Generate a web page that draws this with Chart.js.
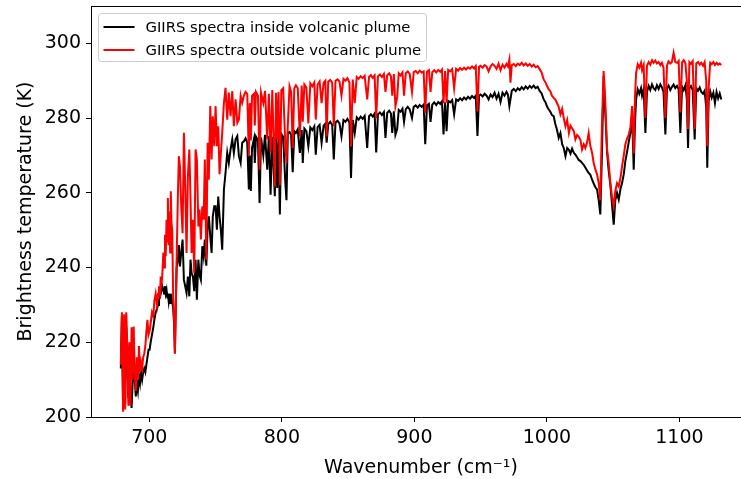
<!DOCTYPE html>
<html><head><meta charset="utf-8">
<script src="https://cdn.jsdelivr.net/npm/chart.js@4.4.0/dist/chart.umd.min.js"></script>
<style>
html,body{margin:0;padding:0;background:#fff;overflow:hidden;width:741px;height:479px}
#wrap{width:770px;height:479px}
</style></head>
<body><div id="wrap"><canvas id="c" width="770" height="479"></canvas></div>
<script>
// Wavenumber (cm-1)
const wavenumbers = [
678.5,679.3,680.2,681.0,681.8,682.6,683.4,684.2,685.0,685.8,686.6,687.4,688.2,689.0,689.8,690.6,691.4,692.2,693.0,693.8,694.6,695.4,696.2,697.0,697.8,698.6,699.4,
700.2,701.0,702.0,703.0,703.8,704.8,705.8,706.6,707.3,708.0,708.6,709.3,709.8,710.6,711.2,711.8,712.4,713.0,713.6,714.0,714.6,715.2,715.7,716.2,716.7,717.3,718.0,718.7,719.3,720.0,720.6,721.6,722.3,
723.1,724.1,725.1,726.1,727.1,728.1,729.1,730.2,731.1,731.9,732.9,733.9,734.9,735.9,737.0,737.9,738.9,740.0,741.0,741.9,743.0,744.0,744.9,746.0,747.0,747.9,749.0,750.0,751.0,752.0,753.0,754.0,755.0,756.3,757.5,758.8,760.0,761.3,762.6,763.8,765.1,766.4,767.6,768.9,770.1,771.3,772.6,773.9,775.1,775.8,776.6,777.5,
779.0,779.6,780.5,782.0,783.2,784.3,786.0,787.3,789.0,790.2,791.5,792.8,794.7,795.6,796.5,797.5,798.5,799.6,801.0,802.5,803.5,804.5,805.8,807.0,808.2,809.4,810.6,812.0,813.6,815.0,815.8,817.0,818.5,820.0,821.5,823.0,824.5,825.6,827.0,828.5,830.0,831.5,832.8,833.8,835.0,836.5,838.0,839.2,840.5,842.0,843.5,845.0,846.5,848.0,849.5,851.0,852.2,853.5,855.0,856.5,858.0,859.5,
861.0,862.5,864.4,865.8,867.2,868.6,870.0,871.2,872.5,874.0,875.5,877.0,878.2,879.5,881.0,882.3,883.3,884.5,885.7,887.0,888.2,889.6,891.0,892.2,893.5,895.0,896.5,898.2,899.5,901.0,902.5,904.0,905.5,907.0,908.2,909.5,911.0,912.2,913.5,915.0,916.5,918.0,919.5,920.8,922.0,923.2,924.3,925.5,927.0,928.5,930.0,931.5,933.0,934.5,936.0,937.5,939.0,940.5,942.0,943.5,945.0,946.3,947.6,948.8,950.0,951.5,953.0,954.5,
956.0,957.5,959.0,960.5,962.0,963.5,965.0,966.5,968.0,969.5,970.6,971.7,972.5,973.5,975.0,976.5,978.0,979.5,981.0,982.5,984.0,985.5,987.0,988.5,990.0,991.5,993.0,994.5,996.0,997.6,999.0,1000.2,1001.4,1002.6,1003.8,1005.1,1006.3,1007.5,1008.9,1010.2,1011.5,1012.7,1014.0,1015.3,1016.6,1017.8,1019.0,1020.3,1021.5,1022.8,1024.0,1025.3,1026.5,1027.8,1029.0,1030.3,1031.5,1032.8,1034.1,1035.3,1036.6,1037.8,1039.1,1040.3,1041.5,1042.8,1044.0,1045.4,1046.6,1047.9,1049.1,1050.4,1051.6,
1052.9,1054.2,1055.5,1056.7,1058.0,1059.2,1060.5,1061.7,1063.0,1064.3,1065.5,1066.5,1067.3,1068.5,1069.7,1071.0,1071.8,1073.0,1074.3,1075.5,1076.8,1078.0,1079.3,1080.5,1081.8,1083.0,1084.3,1085.6,1086.8,1088.0,1089.4,1090.6,1091.8,1093.1,1094.3,1095.6,1096.9,1098.2,1099.4,1100.7,1102.0,1103.2,1104.5,1105.6,1106.5,1107.5,1108.7,1110.0,1111.5,1112.7,1114.0,1115.3,1116.5,1117.8,1119.0,1120.2,1121.0,1122.0,1123.2,1124.4,1125.6,1126.8,1128.0,1129.2,1130.4,1131.6
];

// Brightness temperature (K), inside volcanic plume
const insideBT = [
213,227,202.5,225,203.5,224,217,205,215,206,202.4,209,213,210,205.5,209,207,211,209,212,210,212,213,212,214,216,218,
218,220,222,224,226,228,229,230,231.4,232,233,234,235,234,233,235,233,234,232,233,231,233,230.5,233,232,231,229,225,217,230,240,242,246,
240.3,244,247.5,236.7,235,233.2,237.6,232.3,242.1,238.5,237.6,233.7,242.1,231.4,242.1,238,236.7,245.7,243,247.5,240.5,251,253.7,248.3,243.9,253.7,256.4,256.4,250.1,259,253.7,250,244.8,260.9,265.3,270.7,268,271.6,274.3,270.7,274.3,275.2,269.8,268,273.4,273.8,274.6,273.4,260.9,270,260.5,272,
274.5,268,275,274,257.3,274.8,270,275.5,266.2,275.2,259.5,275,259.1,274.5,261.3,275,254.2,275.8,275,263.5,258,276,276.3,275.5,265.5,276.5,276,277,270.7,276.8,268,277.2,276.5,272.5,277.5,276.8,277.8,270.2,277.6,278.2,273.4,278,278.5,273.4,278.3,279,278.2,268.9,278.8,279.3,278.6,275.1,279.5,279,279.8,278.8,264,279.5,276,280.2,279.6,280.4,
279.8,280.6,272,280.5,281,280.4,281.2,270.8,281,281.5,280.8,281.6,274.7,281.4,282,281.2,276,281.8,275.5,277,282.2,281.7,282.5,279,282.4,283,282.3,280,283,283.4,282.8,283.5,283,283.6,273,283.4,283.8,279,283.6,284.2,283.5,284.3,283.8,284.5,275.6,284.2,276.5,284.6,284.2,284.8,281,285,284.6,285.3,284.8,285.5,285,285.7,285.2,285.9,285.4,286,275.2,286,286.3,285.8,286.5,286,
285,286.3,285.6,286.8,285.2,286.5,284.3,286.8,286,287,286.3,283.2,285,287.3,287.8,287.2,288,287.5,288.3,287.7,288.5,287.9,288.6,288.1,288.7,288,288.4,287.3,286.6,285,284.2,283,282.3,281.7,280.8,280.5,278.5,277,274.7,276,273,272,269.8,272,271.5,270.5,271.8,270.7,270.2,269.5,268.8,268.5,268,267.5,266.8,266,265.3,264.8,263.5,262.5,261.5,260.9,258,254.2,270,291.2,282,270.8,266,262,257,251.5,258,
260,258.2,261,262.6,265,268.5,271,273.5,276,281,266.2,279,285,287.7,286.5,288,286,287.8,276,287,288.6,287.5,289,288,287.5,288.8,287.8,289,288.2,287,275.6,288,288.7,287.5,288.3,289,288,288.6,287.8,276,288.4,287.5,288.8,285,272,288,288.6,287.5,274.3,288,287.3,288.2,287,286.5,287.3,283,266.7,284.5,287.2,285.5,286.8,284,287,285.3,286.6,285
];

// Brightness temperature (K), outside volcanic plume
const outsideBT = [
214,228,201.4,227.5,202,228,219,203,220,203,224,210,224.2,212,207,216,210,219,212,214.6,213,216,217,219,223,226,222,
223,225,228,227,231,233,230,233,235,232,237.6,236,238,244,240,248.8,243,252.8,247,258.6,246,255,244,260.4,252,250,232,226,217,230,242,260,269.8,
267.1,256.4,249.2,276.1,261.7,243.9,264.4,271.6,258.2,243.9,252.8,238.5,271.6,268.9,251,255.5,247.5,256.4,252.8,268.9,242.1,273.4,263.5,283.2,268.9,280.5,272.5,283.2,272.5,277.8,265,270.7,276,284.1,288.1,279.6,286.8,280.5,287.2,277.8,285,278.7,279.6,286,284.1,285.9,287,286.5,269.8,284,274,286,
286.5,278,287,286,266.2,286.8,284,287.3,274.3,286.5,270.8,287.5,261.7,286.8,274.3,287,262,287.5,288,274,268,278,288.5,287,272,288,288.8,288,275.1,288.7,279,289,288.2,278.6,289.3,288.5,289.5,279.6,289,289.8,284,289.5,290,275.1,289.8,290.2,289.5,277.8,290,290.4,289.8,286,290.5,290,290.7,289.5,272.4,290.3,284,291,290.5,291.2,
290.7,291.3,285,291,291.5,290.8,291.4,280,291.2,291.7,291,291.8,287,291.5,292,291.2,286,291.8,283.2,285.5,292,291.4,292.2,286,292,292.5,291.8,287,292.3,292.6,292,292.7,292.2,292.5,281.4,292.4,292.8,287,292.3,292.8,292.2,292.9,292.4,293,284,292.6,284.1,292.9,292.5,293.1,288,293.2,292.7,293.4,292.9,293.5,293,293.6,293.2,293.8,293.3,293.9,281.8,293.7,294,293.5,294.2,293.8,
292.5,293.8,294.5,294,293.2,294.6,292.8,294.3,293.5,294.5,293.8,295.7,289.5,294.2,294.5,293.9,294.6,294.2,294.8,294.1,294.6,294,294.5,293.8,294.3,293.6,293.9,293.1,292.2,290.3,289.5,288.5,287.7,287.2,286,285.4,285,284.1,283,281,282.5,280,277.8,279.5,276,278,277.3,276.5,274.3,275.5,275,274.2,271.6,273,272,273.5,276,272.5,270.7,268,266.2,265,262.6,258,278,292.6,285,271.6,268,262.6,259,256.4,260.5,
262.6,261.7,264,267.1,270,273,274.5,275.5,277.5,283.2,270.5,286,292.1,294.4,293.5,294.8,292.8,294.2,280,294,295,294.3,295.5,294.8,295.4,294.6,295,294.2,294.8,293.5,280,294,295.2,294.6,295,297.5,295,294.8,295.3,281.5,294.9,295.5,294.7,290,277,295,294.5,295.2,277,294.6,295,294.3,294.8,294,295,290,272.5,288,294.8,294.4,295,294.2,294.8,294.3,294.6,294.2
];

const seriesLabels = ['GIIRS spectra inside volcanic plume', 'GIIRS spectra outside volcanic plume'];
const seriesColors = ['#000000', '#ff0000'];
const xTickValues = [700, 800, 900, 1000, 1100];
const yTickValues = [200, 220, 240, 260, 280, 300];
const xTitle = 'Wavenumber (cm\u207B\u00B9)';
const yTitle = 'Brightness temperature (K)';

const FONT = 'DejaVu Sans';
const toPoints = (vals) => wavenumbers.map((w, i) => ({x: w, y: vals[i]}));
const noPad = s => { s.paddingTop = 0; s.paddingBottom = 0; s.paddingLeft = 0; s.paddingRight = 0; };

const framePlugin = {
  id: 'frame',
  afterDraw(chart) {
    const {ctx, chartArea: a} = chart;
    ctx.save();
    ctx.strokeStyle = '#000';
    ctx.lineWidth = 1;
    ctx.beginPath();
    ctx.moveTo(a.left, a.top + 0.5);
    ctx.lineTo(a.right, a.top + 0.5);
    ctx.stroke();
    ctx.restore();
  }
};

const legendPlugin = {
  id: 'boxLegend',
  afterDatasetsDraw(chart) {
    const {ctx, chartArea: a} = chart;
    const x0 = a.left + 7.5, y0 = a.top + 7.5, w = 328, h = 48, r = 3;
    ctx.save();
    ctx.beginPath();
    ctx.moveTo(x0 + r, y0);
    ctx.arcTo(x0 + w, y0, x0 + w, y0 + h, r);
    ctx.arcTo(x0 + w, y0 + h, x0, y0 + h, r);
    ctx.arcTo(x0, y0 + h, x0, y0, r);
    ctx.arcTo(x0, y0, x0 + w, y0, r);
    ctx.closePath();
    ctx.fillStyle = 'rgba(255,255,255,0.8)';
    ctx.fill();
    ctx.strokeStyle = '#cccccc';
    ctx.lineWidth = 1;
    ctx.stroke();
    ctx.font = '14.8px "' + FONT + '"';
    ctx.textBaseline = 'middle';
    ctx.textAlign = 'left';
    chart.data.datasets.forEach((ds, i) => {
      const yy = y0 + 13.5 + i * 23;
      ctx.strokeStyle = ds.borderColor;
      ctx.lineWidth = 2;
      ctx.beginPath();
      ctx.moveTo(x0 + 5, yy);
      ctx.lineTo(x0 + 36, yy);
      ctx.stroke();
      ctx.fillStyle = '#000';
      ctx.fillText(ds.label, x0 + 47, yy + 1);
    });
    ctx.restore();
  }
};

new Chart(document.getElementById('c'), {
  type: 'line',
  data: {
    datasets: [
      {label: seriesLabels[0], data: toPoints(insideBT), borderColor: seriesColors[0], borderWidth: 2, pointRadius: 0, tension: 0, fill: false, order: 2},
      {label: seriesLabels[1], data: toPoints(outsideBT), borderColor: seriesColors[1], borderWidth: 2, pointRadius: 0, tension: 0, fill: false, order: 1}
    ]
  },
  options: {
    responsive: false,
    animation: false,
    devicePixelRatio: 1,
    layout: {padding: {left: 0, right: 19, top: 6, bottom: 0}},
    plugins: {legend: {display: false}, tooltip: {enabled: false}},
    scales: {
      x: {
        type: 'linear', min: 656, max: 1154,
        afterBuildTicks: s => { s.ticks = xTickValues.map(v => ({value: v})); },
        afterFit: s => { s.height = 62; noPad(s); },
        grid: {display: true, drawOnChartArea: false, drawTicks: true, tickLength: 5, color: '#000', lineWidth: 1},
        border: {display: true, color: '#000', width: 1},
        ticks: {font: {family: FONT, size: 19}, color: '#000', padding: 5, maxRotation: 0, autoSkip: false, callback: v => String(v)},
        title: {display: true, text: xTitle, font: {family: FONT, size: 19}, color: '#000', padding: {top: 1, bottom: 0}}
      },
      y: {
        type: 'linear', min: 200, max: 310,
        afterBuildTicks: s => { s.ticks = yTickValues.map(v => ({value: v})); },
        afterFit: s => { s.width = 91; noPad(s); },
        grid: {display: true, drawOnChartArea: false, drawTicks: true, tickLength: 5, color: '#000', lineWidth: 1},
        border: {display: true, color: '#000', width: 1},
        ticks: {font: {family: FONT, size: 19}, color: '#000', padding: 5, autoSkip: false, callback: v => String(v)},
        title: {display: true, text: yTitle, font: {family: FONT, size: 19}, color: '#000', padding: {top: 15, bottom: 0}}
      }
    }
  },
  plugins: [legendPlugin, framePlugin]
});
</script>
</body></html>
